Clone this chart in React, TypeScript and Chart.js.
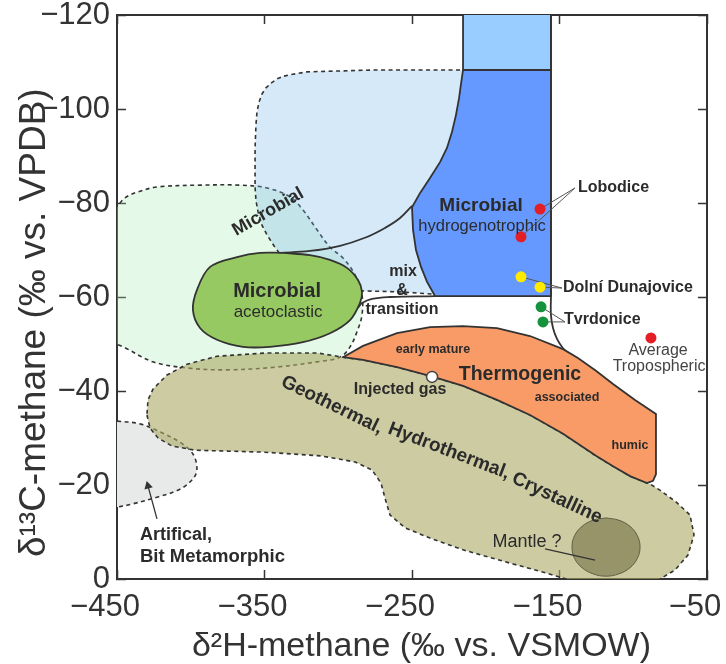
import React, { useEffect, useRef } from 'react';
import { Chart, registerables } from 'chart.js';

Chart.register(...registerables);

const FONT = '"Liberation Sans", Arial, Helvetica, sans-serif';
Chart.defaults.font.family = FONT;

// ---- axes ----
const X_TICKS = [-450, -350, -250, -150, -50];
const Y_TICKS = [-120, -100, -80, -60, -40, -20, 0];

// ---- fields (δ2H, δ13C) ----
const GRAY_FIELD = [
  [-455, -33.6], [-450, -33.6], [-434.4, -33], [-420.8, -31.3], [-407.3, -29.1], [-398.5, -26.6],
  [-395.8, -23.4], [-398.5, -21.3], [-407.3, -19.1], [-422.9, -17.4], [-439.2, -16], [-450, -15.3],
  [-455, -15.3], [-455, -33.6],
];

const GREEN_FIELD = [
  [-455, -50.5], [-455, -77.5], [-449, -79.6], [-444.6, -81.1], [-436.4, -82.3], [-422.9, -83.4],
  [-393.7, -83.8], [-366.6, -83.8], [-348.3, -83.2], [-332.7, -81.3], [-323.9, -78.5], [-314.4, -74.3],
  [-305.6, -70.6], [-296.8, -68.3], [-288.6, -64.7], [-283.9, -60.4], [-283.9, -56.2], [-287.3, -52.6],
  [-292, -49.4], [-298.8, -47.2], [-314.4, -46.2], [-341.5, -45.1], [-375.4, -44.5], [-402.5, -44.9],
  [-425.6, -46.2], [-445.9, -49.4], [-455, -50.5],
];

const LIGHTBLUE_FIELD = [
  [-336.8, -107], [-330.7, -107.4], [-321.2, -107.9], [-298.8, -108.1], [-276.4, -108.3], [-210.7, -108.3],
  [-210.7, -60.4], [-234.4, -60.6], [-258.1, -61.1], [-283.9, -61.3], [-292, -64.7], [-312.4, -66.8],
  [-337.5, -68.3], [-343.6, -70.9], [-348.3, -73.2], [-351.7, -75.3], [-354.4, -78.1], [-355.8, -80.6],
  [-356.4, -83.4], [-356.4, -91.7], [-355.8, -96.6], [-355.1, -99.4], [-353.7, -101.5], [-351.7, -103.2],
  [-349, -104.5], [-345.6, -105.5], [-341.5, -106.4], [-336.8, -107],
];

const OLIVE_FIELD = [
  [-429.7, -34.9], [-427.6, -32.1], [-422.2, -30], [-412.7, -28.3], [-397.1, -27.4], [-351, -27],
  [-311.7, -26.2], [-288.6, -24.9], [-277.1, -23.2], [-271, -20.4], [-268.3, -17.2], [-264.9, -13.6],
  [-254.7, -10.9], [-237.8, -8.7], [-215.4, -6.2], [-181.5, -3.2], [-159.2, -1.3], [-145.6, 0],
  [-143, 1.5], [-81.9, 1.5], [-81.9, 0], [-71.7, -1.9], [-62.9, -5.1], [-58.8, -9.4], [-61.5, -13.6],
  [-71, -16.4], [-81.9, -18.9], [-88.6, -20.2], [-90.7, -20.4], [-102.2, -21.9], [-113.7, -24],
  [-125.3, -26.2], [-147.6, -30.9], [-170, -34.9], [-192.4, -38.1], [-215.4, -41.1], [-237.8, -43.2],
  [-260.2, -45.1], [-283.2, -46.6], [-296.8, -47.2], [-314.4, -48.1], [-348.3, -48.1], [-382.2, -47.4],
  [-402.5, -45.7], [-416.1, -43.4], [-425.6, -40.4], [-429, -38.1], [-429.7, -34.9],
];

const TOPBLUE_FIELD = [
  [-215.4, -121.5], [-155.8, -121.5], [-155.8, -108.3], [-215.4, -108.3], [-215.4, -121.5],
];

const BLUE_FIELD = [
  [-215.4, -108.3], [-155.8, -108.3], [-155.8, -60.2], [-234.4, -60.2], [-239.8, -63.2], [-243.9, -66.4],
  [-247.3, -70], [-249.3, -74.3], [-250, -79.1], [-244.6, -82.1], [-237.8, -85.3], [-231, -88.7],
  [-226.3, -91.7], [-222.9, -95.1], [-220.2, -98.7], [-218.1, -102.3], [-216.8, -105.3], [-215.4, -108.3],
];

const ACETO_FIELD = [
  [-337.5, -69.4], [-319.2, -68.9], [-305.6, -67.9], [-294.1, -66.2], [-286.6, -63.6], [-283.9, -61.1],
  [-285.3, -58.7], [-292, -55.1], [-305.6, -52.3], [-323.9, -50.4], [-346.3, -49.4], [-364.6, -49.4],
  [-382.2, -50.9], [-393.7, -53.4], [-398.5, -57.2], [-395.8, -61.5], [-386.9, -66.4], [-368.6, -68.5],
  [-353.1, -69.4], [-337.5, -69.4],
];

const THERMO_FIELD = [
  [-296.8, -47.2], [-283.2, -49.6], [-260.2, -52.3], [-237.8, -53.6], [-215.4, -53.8], [-192.4, -53.4],
  [-170, -51.7], [-147.6, -48.9], [-137.5, -47], [-125.3, -44.3], [-113.7, -41.5], [-98.8, -38.1],
  [-84.6, -35.1], [-84.6, -22.3], [-86.6, -20.9], [-90.7, -20.4], [-102.2, -21.9], [-113.7, -24],
  [-125.3, -26.2], [-147.6, -30.9], [-170, -34.9], [-192.4, -38.1], [-215.4, -41.1], [-237.8, -43.2],
  [-260.2, -45.1], [-283.2, -46.6], [-296.8, -47.2],
];

const MANTLE_FIELD = [
  [-118.5, -13], [-109.7, -12.5], [-102.2, -11.2], [-97.2, -9.2], [-95.4, -6.8], [-97.2, -4.4],
  [-102.2, -2.4], [-109.7, -1.1], [-118.5, -0.6], [-127.3, -1.1], [-134.7, -2.4], [-139.8, -4.4],
  [-141.5, -6.8], [-139.8, -9.2], [-134.7, -11.2], [-127.3, -12.5], [-118.5, -13],
];

// ---- boundary lines ----
const CO2_CURVE = [
  [-339.5, -69.4], [-319.2, -69.8], [-298.8, -70.9], [-281.9, -72.6], [-268.3, -74.7], [-258.1, -76.8], [-250, -79.4],
];
const MIX_LINE = [
  [-286.6, -57.7], [-283.9, -58.7], [-277.1, -59.6], [-264.9, -60], [-234.4, -60.2],
];
const RIGHT_LINE = [
  [-155.8, -121], [-155.8, -60.2], [-155.8, -56.2], [-154.4, -53.4], [-151.7, -51.1], [-147.6, -49.1],
  [-142.9, -47.7], [-137.5, -46.4],
];

// ---- samples ----
const LOBODICE = [[-163.2, -78.7], [-176.1, -72.8]];
const DOLNI_DUNAJOVICE = [[-176.1, -64.3], [-163.2, -62.1]];
const TVRDONICE = [[-162.5, -57.9], [-161.2, -54.7]];
const AVG_TROPOSPHERIC = [[-88, -51.3]];
const INJECTED_GAS = [[-236.4, -43]];

// ---- leader lines ----
const LOBODICE_LEADER = [[-163.2, -78.7], [-139.5, -83.2], [-176.1, -72.8]];
const DOLNI_LEADER = [[-176.1, -64.3], [-148.3, -61.9], [-163.2, -62.1]];
const TVRDONICE_LEADER = [[-162.5, -57.9], [-146.3, -54.7], [-161.2, -54.7]];
const MANTLE_LEADER = [[-159.8, -6.4], [-125.9, -4]];
const ARTIFICIAL_ARROW = [[-422.9, -12.8], [-429, -19.8]];

// ---- text labels ----
type Lbl = { t: string; x: number; y: number; s: number; w: string; rot?: number; align?: CanvasTextAlign; c?: string };
const LABELS: Lbl[] = [
  { t: 'Microbial', x: -347.6, y: -78.1, s: 18, w: 'bold', rot: -30 },
  { t: 'Microbial', x: -341.5, y: -61.1, s: 20, w: 'bold' },
  { t: 'acetoclastic', x: -340.8, y: -56.8, s: 17, w: 'normal' },
  { t: 'Microbial', x: -203.2, y: -79.4, s: 19, w: 'bold' },
  { t: 'hydrogenotrophic', x: -202.5, y: -75.1, s: 16.5, w: 'normal' },
  { t: 'mix', x: -256.1, y: -65.3, s: 16, w: 'bold' },
  { t: '&', x: -256.8, y: -61.3, s: 16, w: 'bold' },
  { t: 'transition', x: -256.8, y: -57.4, s: 16, w: 'bold' },
  { t: 'early mature', x: -235.8, y: -48.9, s: 12.5, w: 'bold' },
  { t: 'Thermogenic', x: -176.8, y: -43.4, s: 19.5, w: 'bold' },
  { t: 'associated', x: -144.9, y: -38.7, s: 12.5, w: 'bold' },
  { t: 'humic', x: -102.2, y: -28.5, s: 12.5, w: 'bold' },
  { t: 'Injected gas', x: -258.1, y: -40.2, s: 16, w: 'bold' },
  { t: 'Geothermal,', x: -304.2, y: -37, s: 19, w: 'bold', rot: 26 },
  { t: 'Hydrothermal,', x: -224.9, y: -27.2, s: 19, w: 'bold', rot: 21 },
  { t: 'Crystalline', x: -151.7, y: -17.2, s: 19, w: 'bold', rot: 25 },
  { t: 'Lobodice', x: -137.5, y: -83.2, s: 16, w: 'bold', align: 'left' },
  { t: 'Dolní Dunajovice', x: -147.6, y: -61.9, s: 16, w: 'bold', align: 'left' },
  { t: 'Tvrdonice', x: -146.9, y: -55.1, s: 16, w: 'bold', align: 'left' },
  { t: 'Average', x: -83.2, y: -48.5, s: 16, w: 'normal', c: '#444' },
  { t: 'Tropospheric', x: -82.5, y: -45.1, s: 16, w: 'normal', c: '#444' },
  { t: 'Artifical,', x: -434.4, y: -9.4, s: 18, w: 'bold', align: 'left' },
  { t: 'Bit Metamorphic', x: -434.4, y: -4.7, s: 18.5, w: 'bold', align: 'left' },
  { t: 'Mantle ?', x: -172, y: -7.9, s: 18, w: 'normal' },
];

const pts = (arr: number[][]) => arr.map(([x, y]) => ({ x, y }));
const fmt = (v: number | string) => {
  const n = Number(v);
  return n === 0 ? '0' : (n < 0 ? '\u2212' : '') + Math.abs(n);
};

const INK = '#333333';

const field = (data: number[][], fill: string, order: number, dashed: boolean, tension = 0, border = INK, bw = 1.6) => ({
  data: pts(data),
  showLine: true,
  fill: 'shape',
  backgroundColor: fill,
  borderColor: border,
  borderWidth: bw,
  borderDash: dashed ? [4, 3.5] : [],
  tension,
  pointRadius: 0,
  order,
  xAxisID: 'x',
  yAxisID: 'y',
});

const line = (data: number[][], order: number, tension = 0, color = INK, bw = 1.8) => ({
  data: pts(data),
  showLine: true,
  fill: false,
  borderColor: color,
  borderWidth: bw,
  tension,
  pointRadius: 0,
  order,
  xAxisID: 'x',
  yAxisID: 'y',
});

const markers = (data: number[][], color: string, order: number, border = color, bw = 0) => ({
  data: pts(data),
  showLine: false,
  pointRadius: 5.5,
  pointBackgroundColor: color,
  pointBorderColor: border,
  pointBorderWidth: bw,
  order,
  xAxisID: 'x',
  yAxisID: 'y',
});

const textPlugin = {
  id: 'fieldLabels',
  afterDatasetsDraw(chart: any) {
    const { ctx, scales } = chart;
    const xs = scales.x;
    const ys = scales.y;
    for (const l of LABELS) {
      ctx.save();
      ctx.translate(xs.getPixelForValue(l.x), ys.getPixelForValue(l.y));
      if (l.rot) ctx.rotate((l.rot * Math.PI) / 180);
      ctx.font = `${l.w} ${l.s}px ${FONT}`;
      ctx.fillStyle = l.c || '#2b2b2b';
      ctx.textAlign = l.align || 'center';
      ctx.textBaseline = 'middle';
      ctx.fillText(l.t, 0, 0);
      ctx.restore();
    }
  },
};

const gridOpts = { drawOnChartArea: false, drawTicks: true, tickLength: -9, tickColor: INK, tickWidth: 1.5, color: INK };
const borderOpts = { display: true, color: INK, width: 2 };
const tickFont = { family: FONT, size: 31 };

const fitH = (h: number) => (s: any) => { s.height = h; s.paddingLeft = 0; s.paddingRight = 0; s.paddingTop = 0; s.paddingBottom = 0; };
const fitW = (w: number) => (s: any) => { s.width = w; s.paddingLeft = 0; s.paddingRight = 0; s.paddingTop = 0; s.paddingBottom = 0; };

export default function App() {
  const ref = useRef<HTMLCanvasElement | null>(null);

  useEffect(() => {
    if (!ref.current) return;
    const datasets: any[] = [
      field(GRAY_FIELD, '#E8EAEA', 100, true, 0.35),
      field(GREEN_FIELD, 'rgba(168,235,178,0.3)', 95, true, 0.35),
      field(LIGHTBLUE_FIELD, 'rgba(115,182,235,0.3)', 90, true, 0),
      field(OLIVE_FIELD, 'rgba(170,168,100,0.6)', 85, true, 0),
      field(TOPBLUE_FIELD, '#99CCFF', 80, false, 0, INK, 1.8),
      field(BLUE_FIELD, '#6699FF', 75, false, 0, INK, 1.8),
      line(CO2_CURVE, 70, 0.4),
      field(ACETO_FIELD, '#97C963', 65, false, 0.35, INK, 1.8),
      line(MIX_LINE, 60, 0.4),
      line(RIGHT_LINE, 58, 0.4),
      field(THERMO_FIELD, '#F99B66', 55, false, 0, INK, 1.8),
      field(MANTLE_FIELD, '#97946A', 50, false, 0.4, '#5f5d42', 1),
      line(LOBODICE_LEADER, 40, 0, '#555', 1),
      line(DOLNI_LEADER, 40, 0, '#555', 1),
      line(TVRDONICE_LEADER, 40, 0, '#555', 1),
      line(MANTLE_LEADER, 40, 0, '#333', 1.3),
      {
        ...line(ARTIFICIAL_ARROW, 39, 0, '#333', 1.3),
        pointRadius: [0, 5],
        pointStyle: 'triangle',
        pointRotation: -15,
        pointBackgroundColor: '#333',
        pointBorderColor: '#333',
        pointBorderWidth: 0,
      },
      markers(LOBODICE, '#E31E24', 12),
      markers(DOLNI_DUNAJOVICE, '#FFEA00', 12),
      markers(TVRDONICE, '#14923C', 12),
      markers(AVG_TROPOSPHERIC, '#E31E24', 12),
      markers(INJECTED_GAS, '#FFFFFF', 11, '#444', 1.5),
    ];

    const chart = new Chart(ref.current, {
      type: 'scatter',
      data: { datasets },
      plugins: [textPlugin],
      options: {
        animation: false,
        responsive: false,
        devicePixelRatio: 1,
        events: [],
        layout: { padding: 0 },
        plugins: { legend: { display: false }, tooltip: { enabled: false } },
        scales: {
          x: {
            type: 'linear',
            axis: 'x',
            position: 'bottom',
            min: -450,
            max: -50,
            afterBuildTicks: (s: any) => { s.ticks = X_TICKS.map((v) => ({ value: v })); },
            afterFit: fitH(85),
            ticks: { font: tickFont, color: INK, padding: 19, labelOffset: -12, maxRotation: 0, autoSkip: false, callback: (v: any) => fmt(v) },
            grid: gridOpts,
            border: borderOpts,
            title: {
              display: true,
              text: '  \u03B4\u00B2H-methane (\u2030 vs. VSMOW)',
              font: { family: FONT, size: 34, lineHeight: 1 },
              color: INK,
              padding: { top: 0, bottom: 0 },
            },
          },
          x2: {
            type: 'linear',
            axis: 'x',
            position: 'top',
            min: -450,
            max: -50,
            afterBuildTicks: (s: any) => { s.ticks = X_TICKS.map((v) => ({ value: v })); },
            afterFit: fitH(15),
            ticks: { display: false },
            grid: gridOpts,
            border: borderOpts,
          },
          y: {
            type: 'linear',
            axis: 'y',
            position: 'left',
            min: -120,
            max: 0,
            reverse: true,
            afterBuildTicks: (s: any) => { s.ticks = Y_TICKS.map((v) => ({ value: v })); },
            afterFit: fitW(117),
            ticks: { font: tickFont, color: INK, padding: 16, autoSkip: false, callback: (v: any) => fmt(v) },
            grid: gridOpts,
            border: borderOpts,
            title: {
              display: true,
              text: '\u03B4\u00B9\u00B3C-methane (\u2030 vs. VPDB)     ',
              font: { family: FONT, size: 37, lineHeight: 1 },
              color: INK,
              padding: { top: 16.5, bottom: 0 },
            },
          },
          y2: {
            type: 'linear',
            axis: 'y',
            position: 'right',
            min: -120,
            max: 0,
            reverse: true,
            afterBuildTicks: (s: any) => { s.ticks = Y_TICKS.map((v) => ({ value: v })); },
            afterFit: fitW(19),
            ticks: { display: false },
            grid: gridOpts,
            border: borderOpts,
          },
        },
      } as any,
    });
    return () => chart.destroy();
  }, []);

  return (
    <div style={{ position: 'fixed', left: 0, top: 0, width: 726, height: 664, background: '#fff' }}>
      <canvas ref={ref} width={726} height={664} style={{ display: 'block', width: 726, height: 664 }} />
    </div>
  );
}
